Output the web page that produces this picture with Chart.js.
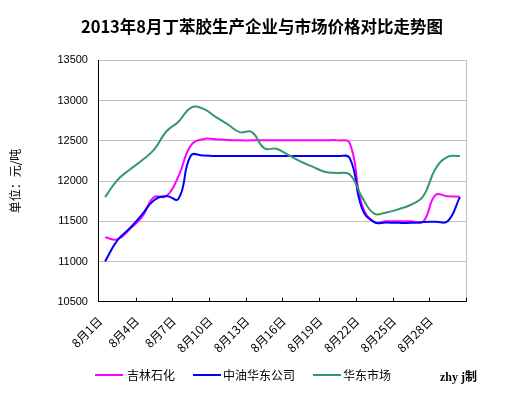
<!DOCTYPE html>
<html>
<head>
<meta charset="utf-8">
<script src="https://cdn.jsdelivr.net/npm/chart.js@4.4.0/dist/chart.umd.min.js"></script>
<style>
  body { margin: 0; background: #fff; }
  #wrap { position: relative; width: 524px; height: 395px; }
  .lg { position: absolute; font: 12px "Noto Sans CJK SC", sans-serif; color: #000; line-height: 14px; white-space: nowrap; }
  .bar { position: absolute; height: 2px; }
</style>
</head>
<body>
<div id="wrap">
  <canvas id="myChart" width="524" height="395" style="width:524px;height:395px"></canvas>
  <div class="bar" style="left:95px;top:374px;width:28px;background:#FF00FF"></div>
  <div class="lg" style="left:127px;top:368px">吉林石化</div>
  <div class="bar" style="left:193px;top:374px;width:28px;background:#0000FF"></div>
  <div class="lg" style="left:223px;top:368px">中油华东公司</div>
  <div class="bar" style="left:313px;top:374px;width:28px;background:#339966"></div>
  <div class="lg" style="left:343px;top:368px">华东市场</div>
  <div class="lg" style="left:440px;top:367px;font:bold 12px 'Liberation Serif','Noto Sans CJK SC',serif">zhy j制</div>
</div>
<script>
// categories
const days = [
  "8月1日", "8月2日", "8月3日", "8月4日", "8月5日", "8月6日", "8月7日", "8月8日", "8月9日", "8月10日",
  "8月11日", "8月12日", "8月13日", "8月14日", "8月15日", "8月16日", "8月17日", "8月18日", "8月19日", "8月20日",
  "8月21日", "8月22日", "8月23日", "8月24日", "8月25日", "8月26日", "8月27日", "8月28日", "8月29日", "8月30日",
];
// tick labels shown on the x axis
const shownTicks = ["8月1日", "8月4日", "8月7日", "8月10日", "8月13日", "8月16日", "8月19日", "8月22日", "8月25日", "8月28日"];

// series (元/吨)
const jilin = [
  11300, 11275, 11400, 11550, 11800, 11810, 12060, 12440, 12520, 12520,
  12510, 12505, 12505, 12505, 12505, 12505, 12505, 12505, 12505, 12505,
  12470, 11700, 11490, 11500, 11500, 11500, 11495, 11825, 11810, 11805,
];
const zhongyou = [
  11000, 11262, 11410, 11580, 11760, 11815, 11779, 12315, 12317, 12310,
  12310, 12310, 12310, 12310, 12310, 12310, 12310, 12310, 12310, 12310,
  12285, 11660, 11490, 11485, 11480, 11480, 11490, 11495, 11500, 11800,
];
const huadong = [
  11800, 12012, 12140, 12255, 12390, 12615, 12737, 12910, 12900, 12800,
  12708, 12608, 12608, 12408, 12400, 12320, 12241, 12175, 12113, 12100,
  12080, 11800, 11595, 11610, 11650, 11705, 11810, 12150, 12300, 12312,
];

// y axis
const yMin = 10500;
const yMax = 13500;
const yStep = 500;

Chart.defaults.font.family = '"Noto Sans CJK SC", "Liberation Sans", sans-serif';
Chart.defaults.color = "#000";

// inside tick marks on the category axis + grey right border
const frame = {
  id: "frame",
  afterDraw(chart) {
    const { ctx, chartArea } = chart;
    const { left, right, top, bottom } = chartArea;
    ctx.save();
    ctx.lineWidth = 1;
    ctx.strokeStyle = "#C0C0C0";
    ctx.beginPath();
    ctx.moveTo(Math.round(right) + 0.5, top);
    ctx.lineTo(Math.round(right) + 0.5, bottom);
    ctx.stroke();
    ctx.strokeStyle = "#000";
    ctx.beginPath();
    for (let i = 1; i <= 10; i++) {
      const x = Math.round(left + ((right - left) * i) / 10) + 0.5;
      ctx.moveTo(x, bottom);
      ctx.lineTo(x, bottom - 4);
    }
    ctx.stroke();
    ctx.restore();
  },
};

const config = {
  type: "line",
  data: {
    labels: days,
    datasets: [
      { label: "吉林石化", data: jilin, borderColor: "#FF00FF", backgroundColor: "#FF00FF", order: 2 },
      { label: "中油华东公司", data: zhongyou, borderColor: "#0000FF", backgroundColor: "#0000FF", order: 1 },
      { label: "华东市场", data: huadong, borderColor: "#339966", backgroundColor: "#339966", order: 0 },
    ],
  },
  options: {
    responsive: false,
    animation: false,
    layout: { padding: { left: 0, right: 0, top: 0, bottom: 36 } },
    elements: {
      point: { radius: 0 },
      line: { borderWidth: 2, tension: 0.45, fill: false },
    },
    plugins: {
      legend: { display: false },
      tooltip: { enabled: false },
      title: {
        display: true,
        text: "2013年8月丁苯胶生产企业与市场价格对比走势图",
        color: "#000",
        font: { size: 16.5, weight: "bold" },
        padding: { top: 17, bottom: 23.5 },
      },
    },
    scales: {
      x: {
        offset: true,
        grid: { display: false },
        border: { display: true, color: "#000", width: 1 },
        ticks: {
          autoSkip: false,
          maxRotation: 45,
          minRotation: 45,
          padding: 4,
          labelOffset: -5,
          font: { size: 12 },
          callback: function (v, i) {
            const l = days[i];
            return shownTicks.includes(l) ? l : "";
          },
        },
      },
      y: {
        min: yMin,
        max: yMax,
        grid: { color: "#C0C0C0", drawTicks: false },
        border: { display: true, color: "#000", width: 1 },
        ticks: {
          stepSize: yStep,
          padding: 11,
          font: { size: 11, family: "Liberation Sans" },
          callback: (v) => String(v),
        },
        title: {
          display: true,
          text: "单位：元/吨",
          color: "#000",
          font: { size: 12 },
          padding: { top: 8, bottom: 24 },
        },
      },
      // empty right-hand space so the title stays centred on the page
      yPad: {
        position: "right",
        min: yMin,
        max: yMax,
        grid: { display: false },
        border: { display: false },
        ticks: { display: false },
        afterFit: (s) => { s.width = 58; },
      },
    },
  },
  plugins: [frame],
};

const myChart = new Chart(document.getElementById("myChart"), config);
</script>
</body>
</html>
